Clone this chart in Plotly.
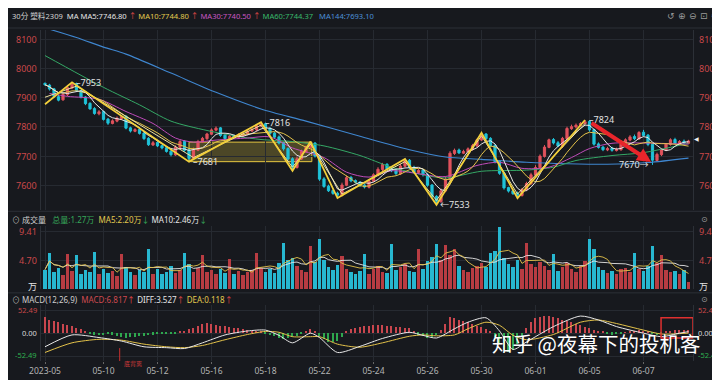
import plotly.graph_objects as go
import pandas as pd

# ---------------- data ----------------
tick_text = ["2023-05", "05-10", "05-12", "05-16", "05-18", "05-22", "05-24",
             "05-26", "05-30", "06-01", "06-05", "06-07"]
tick_bar = [0, 13, 25, 37, 49, 61, 73, 85, 97, 109, 121, 133]

close = [7945, 7930, 7905, 7892, 7912, 7935, 7948, 7925, 7902, 7880,
         7862, 7846, 7852, 7826, 7813, 7821, 7830, 7836, 7796, 7786,
         7791, 7778, 7760, 7739, 7746, 7735, 7728, 7716, 7705, 7731,
         7750, 7720, 7692, 7721, 7750, 7761, 7776, 7790, 7796, 7771,
         7760, 7768, 7765, 7771, 7776, 7785, 7791, 7804, 7810, 7795,
         7778, 7765, 7745, 7725, 7690, 7662, 7691, 7716, 7731, 7744,
         7700, 7621, 7596, 7581, 7572, 7566, 7601, 7626, 7615, 7610,
         7600, 7594, 7615, 7636, 7655, 7671, 7656, 7650, 7640, 7666,
         7685, 7661, 7645, 7651, 7636, 7600, 7561, 7545, 7581, 7621,
         7710, 7720, 7711, 7716, 7725, 7736, 7756, 7775, 7760, 7736,
         7681, 7641, 7591, 7580, 7571, 7566, 7586, 7606, 7636, 7661,
         7700, 7731, 7756, 7745, 7735, 7761, 7795, 7801, 7806, 7812,
         7818, 7790, 7741, 7730, 7722, 7726, 7720, 7723, 7741, 7756,
         7766, 7760, 7781, 7771, 7740, 7686, 7706, 7721, 7741, 7756,
         7745, 7750, 7745, 7752]

open_ = [7950, 7944, 7931, 7904, 7893, 7911, 7934, 7949, 7924, 7903,
         7881, 7863, 7845, 7853, 7827, 7812, 7820, 7829, 7837, 7797,
         7785, 7792, 7779, 7761, 7738, 7747, 7736, 7729, 7717, 7704,
         7730, 7751, 7721, 7691, 7720, 7749, 7760, 7775, 7789, 7797,
         7772, 7759, 7769, 7764, 7770, 7775, 7786, 7790, 7803, 7811,
         7796, 7779, 7766, 7746, 7726, 7691, 7661, 7690, 7715, 7730,
         7745, 7701, 7622, 7597, 7582, 7573, 7565, 7600, 7627, 7616,
         7611, 7601, 7593, 7614, 7635, 7654, 7672, 7657, 7651, 7639,
         7665, 7686, 7662, 7644, 7652, 7637, 7601, 7562, 7544, 7580,
         7620, 7709, 7721, 7710, 7715, 7724, 7735, 7755, 7776, 7761,
         7737, 7682, 7642, 7592, 7581, 7572, 7565, 7585, 7605, 7635,
         7660, 7699, 7730, 7757, 7746, 7734, 7760, 7794, 7800, 7805,
         7811, 7819, 7791, 7742, 7731, 7721, 7727, 7719, 7722, 7740,
         7755, 7767, 7759, 7782, 7772, 7741, 7685, 7705, 7720, 7740,
         7757, 7744, 7751, 7744]

wick_up = [2, 4, 3, 6, 5, 4, 5, 3, 4, 3,
           4, 5, 6, 3, 4, 5, 6, 5, 3, 4,
           5, 4, 3, 4, 6, 3, 4, 3, 4, 6,
           7, 4, 3, 8, 6, 5, 4, 5, 6, 3,
           4, 6, 5, 7, 4, 5, 6, 5, 6, 4,
           3, 4, 5, 3, 4, 5, 8, 6, 5, 6,
           3, 4, 6, 5, 4, 5, 8, 7, 5, 4,
           3, 5, 6, 5, 7, 6, 4, 5, 6, 7,
           5, 4, 5, 6, 3, 4, 3, 4, 8, 9,
           7, 6, 5, 6, 5, 6, 4, 5, 3, 4,
           3, 4, 5, 3, 4, 6, 5, 6, 7, 8,
           6, 7, 4, 5, 6, 5, 6, 7, 6, 5,
           6, 4, 3, 5, 4, 6, 5, 6, 7, 5,
           6, 7, 5, 8, 4, 3, 6, 5, 4, 5,
           6, 5, 6, 4]

wick_dn = [4, 5, 6, 4, 3, 5, 4, 5, 4, 5,
           3, 4, 5, 4, 6, 3, 4, 5, 4, 5,
           3, 4, 5, 4, 3, 4, 5, 4, 6, 3,
           4, 5, 11, 4, 3, 4, 5, 3, 4, 5,
           4, 3, 4, 5, 4, 3, 4, 5, 4, 3,
           5, 4, 5, 6, 5, 12, 4, 3, 4, 3,
           5, 6, 5, 4, 5, 10, 4, 3, 5, 4,
           6, 5, 4, 3, 4, 5, 4, 5, 6, 4,
           3, 5, 4, 5, 6, 5, 6, 12, 5, 4,
           6, 5, 4, 3, 4, 5, 4, 3, 5, 4,
           6, 5, 6, 5, 4, 10, 4, 5, 3, 4,
           5, 4, 3, 5, 4, 6, 3, 4, 5, 4,
           3, 6, 5, 4, 5, 4, 5, 3, 4, 5,
           4, 5, 3, 4, 6, 16, 4, 5, 3, 4,
           3, 4, 5, 3]

volume = [3.2, 6.0, 2.8, 3.5, 2.4, 5.8, 3.0, 5.6, 2.6, 3.1,
          2.9, 6.2, 2.5, 3.4, 2.7, 3.0, 2.2, 5.8, 3.6, 2.9,
          2.4, 3.1, 2.8, 6.7, 2.6, 3.3, 2.5, 2.9, 3.8, 2.7,
          3.2, 5.9, 4.1, 2.9, 3.5, 5.6, 2.8, 3.1, 2.6, 3.4,
          2.7, 5.0, 2.5, 3.0, 2.3, 2.8, 3.2, 6.0, 3.5, 2.9,
          3.3, 2.7, 4.4, 7.6, 4.8, 5.2, 3.9, 3.1, 2.8, 7.1,
          4.5, 8.3, 4.9, 3.6, 3.2, 4.0, 5.5, 3.4, 2.8, 2.5,
          3.0, 5.8, 2.6, 3.3, 3.8, 2.9, 2.7, 7.4, 3.1, 3.6,
          4.2, 3.0, 2.8, 6.6, 3.4, 4.6, 5.3, 7.4, 4.9, 7.3,
          5.6, 6.6, 3.8, 3.2, 2.9, 3.5, 3.9, 4.4, 3.7, 5.9,
          6.3, 10.3, 5.1, 4.2, 3.6, 4.8, 3.3, 7.6, 4.1, 3.7,
          4.5, 3.9, 3.2, 5.8, 3.0, 3.6, 4.3, 3.4, 2.9, 3.8,
          4.6, 8.2, 6.6, 3.7, 3.1, 2.7, 3.0, 2.6, 3.3, 3.5,
          2.9, 6.0, 3.4, 3.0, 3.8, 7.1, 4.4, 5.6, 3.2, 2.8,
          3.0, 2.6, 3.1, 1.27]

ma30_bar = [1, 5, 12, 18, 24, 29, 33, 38, 45, 50, 55, 62, 67, 72, 77, 82, 89,
            96, 101, 106, 112, 117, 121, 126, 133, 143]
ma30_val = [7915, 7905, 7895, 7853, 7812, 7762, 7748, 7755, 7762, 7766, 7728,
            7695, 7645, 7628, 7650, 7642, 7630, 7668, 7679, 7658, 7662, 7695,
            7726, 7744, 7745, 7741]
ma60_bar = [0, 13, 21, 28, 36, 43, 48, 55, 62, 70, 77, 84, 89, 97, 107, 113,
            118, 126, 133, 143]
ma60_val = [8045, 7936, 7876, 7820, 7788, 7767, 7757, 7750, 7735, 7702, 7662,
            7636, 7625, 7648, 7652, 7662, 7685, 7702, 7712, 7744]
ma144_bar = [0, 7, 13, 18, 28, 38, 48, 58, 70, 81, 89, 97, 107, 116, 125, 134, 143]
ma144_val = [8140, 8107, 8074, 8050, 7985, 7919, 7862, 7820, 7768, 7722, 7697,
             7689, 7679, 7674, 7672, 7678, 7693]

macd_bar = [0, 6, 12, 17, 22, 27, 31, 35, 40, 45, 49, 52, 55, 59, 61, 65, 70,
            75, 81, 84, 87, 91, 94, 98, 101, 104, 107, 113, 119, 123, 127,
            133, 137, 141, 143]
diff_val = [-31, -4, -10, -18, -31, -33, -35, -22, -4, 5, 7, -5, -22, 0, -10,
            -44, -30, -12, 2, -5, -11, 10, 25, 35, 5, -37, -20, 15, 39, 30, 15,
            0, -8, 0, 3.5]
dea_val = [-44, -22, -14, -16, -25, -31, -33, -28, -15, -3, 4, 2, -8, -8, -8,
           -25, -32, -22, -7, -4, -6, -4, 10, 25, 18, -5, -15, -3, 25, 30, 22,
           7, -2, -1, 0.1]
macd_hist = [35, 30, 27, 24, 20, 18, 16, 12, 8, 3,
             -2, -4, -6, -5, -3, -4, -7, -9, -11, -10,
             -9, -8, -8, -6, -4, -3, -3, -2, -2, -1,
             2, 4, 8, 12, 16, 20, 22, 21, 18, 16,
             15, 14, 12, 10, 8, 6, 5, 4, 2, -2,
             -5, -8, -11, -13, -12, -10, -8, -3, 4, 8,
             5, -8, -15, -20, -22, -18, -10, 2, 8, 12,
             14, 15, 16, 17, 18, 17, 16, 15, 14, 13,
             12, 10, 4, -4, -8, -11, -10, -6, 6, 20,
             35, 33, 30, 27, 24, 20, 16, 13, 8, 2,
             -10, -25, -40, -44, -38, -25, -8, 10, 25, 33,
             37, 39, 38, 36, 33, 30, 27, 24, 20, 17,
             14, 10, 6, 4, 2, -2, -4, -3, -2, 1,
             3, 5, 6, 4, 2, -3, -5, -2, 3, 5,
             6, 7, 6, 6.8]

zz_bar = [0, 6, 32, 48, 55, 59, 65, 80, 87, 97, 105, 120]
zz_val = [7878, 7953, 7681, 7816, 7650, 7750, 7556, 7690, 7533, 7780, 7556, 7824]
zz2_bar = [0, 7, 33, 48, 55, 59, 66, 80, 87, 97, 105, 120]
zz2_val = [7902, 7940, 7695, 7806, 7662, 7742, 7570, 7681, 7548, 7770, 7570, 7812]

ext_bar = [6, 32, 48, 87, 120, 135]
ext_val = [7953, 7681, 7816, 7533, 7824, 7670]

box_bar = [32, 59.3]
box_val = [7681, 7748]
trend_bar = [121.1, 134.7]
trend_val = [7817, 7680]

price_ticks = [7600, 7700, 7800, 7900, 8000, 8100]
vol_ticks = [0, 4.70, 9.41]
vol_tick_text = ["万", "4.70", "9.41"]
macd_ticks = [-52.49, 0, 52.49]
macd_tick_text = ["-52.49", "0.00", "52.49"]

# ---------------- derived ----------------
n = len(close)
bars = list(range(n))
high = [max(o, c) + u for o, c, u in zip(open_, close, wick_up)]
low = [min(o, c) - d for o, c, d in zip(open_, close, wick_dn)]
cs = pd.Series(close)
ma5 = cs.rolling(5, min_periods=1).mean()
ma10 = cs.rolling(10, min_periods=1).mean()
vs = pd.Series(volume)
vma5 = vs.rolling(5, min_periods=1).mean()
vma10 = vs.rolling(10, min_periods=1).mean()

# ---------------- geometry helpers ----------------
W, H = 720, 380
ML, MR, MT, MB = 33, 35, 20, 13
PW, PH = W - ML - MR, H - MT - MB


def px_x(p):
    return (p - ML) / PW


def px_y(p):
    return (H - MB - p) / PH


BG = "#17191e"
GRID = "#262a31"
RED = "#e0525c"
CYAN = "#1fc2d8"
VRED = "#b83c42"
VCYAN = "#27b7d0"
TXT_RED = "#c9484a"
FONT = "Noto Sans, Noto Sans CJK SC, sans-serif"
CJK = "Noto Sans CJK SC, sans-serif"

up = [c >= o for o, c in zip(open_, close)]

fig = go.Figure()

fig.add_trace(go.Scatter(x=ma144_bar, y=ma144_val, mode="lines",
                         line=dict(color="#3f86cf", width=1.1, shape="spline", smoothing=0.8)))
fig.add_trace(go.Scatter(x=ma60_bar, y=ma60_val, mode="lines",
                         line=dict(color="#35a866", width=1.0, shape="spline", smoothing=0.8)))

fig.add_trace(go.Candlestick(
    x=bars, open=open_, high=high, low=low, close=close,
    increasing=dict(line=dict(color=RED, width=1), fillcolor=RED),
    decreasing=dict(line=dict(color=CYAN, width=1), fillcolor=CYAN),
    whiskerwidth=0, xaxis="x", yaxis="y", hoverinfo="skip"))

fig.add_trace(go.Scatter(x=ma30_bar, y=ma30_val, mode="lines",
                         line=dict(color="#bf4cb9", width=1.0, shape="spline", smoothing=0.8)))
fig.add_trace(go.Scatter(x=bars, y=ma10, mode="lines",
                         line=dict(color="#e3c24a", width=1.0)))
fig.add_trace(go.Scatter(x=bars, y=ma5, mode="lines",
                         line=dict(color="#e8e8e8", width=1.0)))

fig.add_trace(go.Scatter(x=zz2_bar, y=zz2_val, mode="lines",
                         line=dict(color="#efe4a0", width=1.0)))
fig.add_trace(go.Scatter(x=zz_bar, y=zz_val, mode="lines",
                         line=dict(color="#f2cf3a", width=1.8)))

fig.add_trace(go.Bar(x=bars, y=volume, yaxis="y2", width=0.72,
                     marker=dict(color=[VRED if u else VCYAN for u in up], line=dict(width=0))))
fig.add_trace(go.Scatter(x=bars, y=vma10, yaxis="y2", mode="lines",
                         line=dict(color="#e6e6e6", width=0.9)))
fig.add_trace(go.Scatter(x=bars, y=vma5, yaxis="y2", mode="lines",
                         line=dict(color="#e3c24a", width=0.9)))

fig.add_trace(go.Bar(x=bars, y=macd_hist, yaxis="y3", width=0.32,
                     marker=dict(color=["#c8464e" if v >= 0 else "#2ea84e" for v in macd_hist],
                                 line=dict(width=0))))
fig.add_trace(go.Scatter(x=macd_bar, y=dea_val, yaxis="y3", mode="lines",
                         line=dict(color="#e3c24a", width=1.0, shape="spline", smoothing=0.7)))
fig.add_trace(go.Scatter(x=macd_bar, y=diff_val, yaxis="y3", mode="lines",
                         line=dict(color="#e8e8e8", width=1.0, shape="spline", smoothing=0.7)))

ann = []


def text(t, xp, yp, color, size=9, xanchor="left", family=FONT):
    ann.append(dict(x=px_x(xp), y=px_y(yp), xref="paper", yref="paper", text=t,
                    showarrow=False, xanchor=xanchor, yanchor="middle",
                    font=dict(color=color, size=size, family=family)))


def sp(t, c):
    return "<span style='color:%s'>%s</span>" % (c, t)


NB = "\u00a0"
UPR = sp("↑", "#e04848")
DNG = sp("↓", "#36a85a")

header = (sp("30分 塑料2309", "#cfcfcf") + NB * 2 + sp("MA MA5:7746.80", "#e6e6e6") + NB + UPR + NB
          + sp("MA10:7744.80", "#e2c94f") + NB + UPR + NB + sp("MA30:7740.50", "#c956c2") + NB + UPR + NB
          + sp("MA60:7744.37", "#37b86a") + NB * 3 + sp("MA144:7693.10", "#4b8fd6"))
text(header, 2, 8, "#cfcfcf", size=7.6)
for xp, ic in zip([663, 674, 685, 696, 707], ["↺", "⊕", "⊖", "⊡", "⚙"]):
    text(ic, xp, 7, "#9a9a9a", size=9, xanchor="center", family="DejaVu Sans")

vol_header = (sp("⊙", "#b0b0b0") + NB + sp("成交量", "#cfcfcf") + NB * 3 + sp("总量:1.27万", "#36a85a")
              + NB * 2 + sp("MA5:2.20万", "#e2c94f") + DNG + NB + sp("MA10:2.46万", "#e6e6e6") + DNG)
text(vol_header, 2, 220, "#cfcfcf", size=8)
macd_header = (sp("⊙", "#b0b0b0") + NB + sp("MACD(12,26,9)", "#cfcfcf") + NB * 2 + sp("MACD:6.817", "#d04a50")
               + UPR + NB + sp("DIFF:3.527", "#e6e6e6") + UPR + NB + sp("DEA:0.118", "#e2c94f") + UPR)
text(macd_header, 2, 303, "#cfcfcf", size=8)
for yp in (220, 303):
    text("⊙", 697, yp, "#9a9a9a", size=8, xanchor="center", family="DejaVu Sans")
    text("⊗", 707, yp, "#9a9a9a", size=8, xanchor="center", family="DejaVu Sans")

text("底背离", 114, 370, "#d03a3a", size=6, family=CJK)

# watermark
text("知乎 @夜幕下的投机客", 588, 348, "#ffffff", size=20.5, xanchor="center", family=CJK)

for v in price_ticks:
    for xp, xa in ((31, "right"), (689, "left")):
        ann.append(dict(x=px_x(xp), xref="paper", y=v, yref="y", text=str(v),
                        showarrow=False, xanchor=xa, font=dict(color=TXT_RED, size=9, family=FONT)))
vol_cols = ["#e6e6e6", TXT_RED, TXT_RED]
for v, t, c in zip(vol_ticks, vol_tick_text, vol_cols):
    yy = v + 0.45 if v == 0 else v
    for xp, xa in ((31, "right"), (689, "left")):
        ann.append(dict(x=px_x(xp), xref="paper", y=yy, yref="y2", text=t,
                        showarrow=False, xanchor=xa, font=dict(color=c, size=9, family=CJK if t == "万" else FONT)))
macd_cols = ["#2fb050", "#d8d8d8", TXT_RED]
for v, t, c in zip(macd_ticks, macd_tick_text, macd_cols):
    yy = v + 3 if v < 0 else v
    for xp, xa in ((31, "right"), (688, "left")):
        ann.append(dict(x=px_x(xp), xref="paper", y=yy, yref="y3", text=t,
                        showarrow=False, xanchor=xa, font=dict(color=c, size=7.5, family=FONT)))

ext_fmt = ["–{}", "–{}", "–{}", "←{}", "–{}", "{}→"]
for b, v, f in zip(ext_bar, ext_val, ext_fmt):
    ann.append(dict(x=b + (-0.4 if f.endswith("→") else 0.4), y=v, xref="x", yref="y",
                    text=f.format(v), showarrow=False,
                    xanchor="right" if f.endswith("→") else "left",
                    font=dict(color="#e2e2e2", size=9, family=FONT)))

ann.append(dict(x=trend_bar[1], y=trend_val[1], ax=trend_bar[0], ay=trend_val[0],
                xref="x", yref="y", axref="x", ayref="y", text="", showarrow=True,
                arrowhead=2, arrowsize=0.7, arrowwidth=4, arrowcolor="#e8252b"))

ann.append(dict(x=px_x(684), xref="paper", y=close[-1] + 10, yref="y", text="◀",
                showarrow=False, xanchor="left", font=dict(color="#f0f0f0", size=6, family="DejaVu Sans")))

shapes = [
    dict(type="rect", xref="x", yref="y", x0=box_bar[0], x1=box_bar[1],
         y0=box_val[0], y1=box_val[1], fillcolor="rgba(190,170,60,0.32)",
         line=dict(color="#e6c640", width=1), layer="below"),
    dict(type="rect", xref="x", yref="y3", x0=136.9, x1=144.0, y0=-11, y1=35,
         line=dict(color="#e0302f", width=1.5)),
    dict(type="line", xref="x", yref="y3", x0=16.6, x1=16.6, y0=-34, y1=-63.4,
         line=dict(color="#c8302f", width=1)),
]
for yp in (20, 211, 296):
    shapes.append(dict(type="line", xref="paper", yref="paper", x0=px_x(0), x1=px_x(720),
                       y0=px_y(yp), y1=px_y(yp), line=dict(color="#2c3037", width=1)))

axis_common = dict(showticklabels=False, gridcolor=GRID, gridwidth=1, zeroline=False,
                   showline=True, linecolor="#2c3037", mirror=True, ticks="")

fig.update_layout(
    width=W, height=H, margin=dict(l=ML, r=MR, t=MT, b=MB),
    paper_bgcolor=BG, plot_bgcolor=BG, showlegend=False,
    font=dict(family=FONT, color="#cccccc", size=9),
    xaxis=dict(domain=[0, 1], range=[-0.889, 144.0], anchor="y3",
               tickmode="array", tickvals=tick_bar, ticktext=tick_text,
               showgrid=True, gridcolor=GRID, zeroline=False, showline=False,
               ticks="outside", ticklen=2, tickcolor="#666", tickfont=dict(size=8.5, color="#b4b4b4"),
               rangeslider=dict(visible=False), fixedrange=True),
    yaxis=dict(domain=[px_y(210), px_y(22)], range=[7514, 8133],
               tickmode="array", tickvals=price_ticks, **axis_common),
    yaxis2=dict(domain=[px_y(292), px_y(226)], range=[0, 10.4],
                tickmode="array", tickvals=vol_ticks, **axis_common),
    yaxis3=dict(domain=[0, px_y(309)], range=[-63.4, 63.4],
                tickmode="array", tickvals=macd_ticks, **axis_common),
    annotations=ann, shapes=shapes, bargap=0,
)

fig.write_html("out.html")
